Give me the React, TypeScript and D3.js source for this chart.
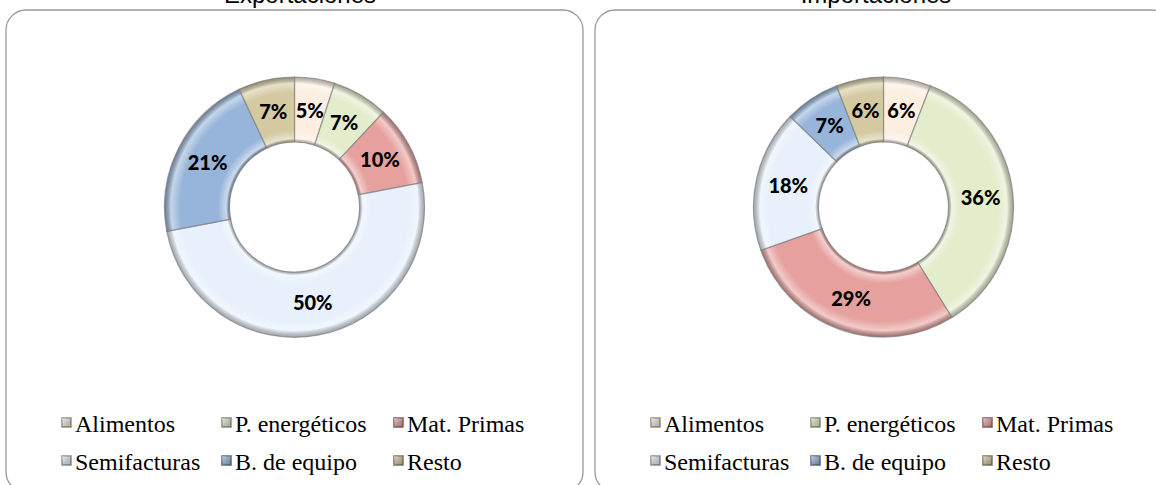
import * as d3 from "d3";

// categories and shares (percent) read from the two doughnuts
const categories = ["Alimentos", "P. energéticos", "Mat. Primas", "Semifacturas", "B. de equipo", "Resto"];
const exportValues = [5, 7, 10, 50, 21, 7];
const importValues = [6, 36, 29, 18, 7, 6];
const chartTitles = ["Exportaciones", "Importaciones"];
const colors = ["#FCEEE0", "#E3ECCB", "#E6A19E", "#E7F0FB", "#97B5DA", "#D4C9A1"];

const W = 1156;
const H = 485;

const panels = [
  { x: 6, title: chartTitles[0], titleX: 300, values: exportValues },
  { x: 595, title: chartTitles[1], titleX: 876, values: importValues },
];
const panelW = 577;
const panelTop = 10;
const panelH = 482;
const outerR = 130;
const innerR = 65;
const legendCols = [56, 216, 388];
const legendRows = [432, 470];

function Donut({ panel, idx }: { panel: typeof panels[0]; idx: number }) {
  const cx = panel.x + panelW / 2;
  const cy = 207;
  const data = categories.map((name, i) => ({ name, value: panel.values[i], color: colors[i] }));
  const pie = d3.pie<any>().value((d) => d.value).sort(null);
  const arcs = pie(data);
  const arc = d3.arc<any>().innerRadius(innerR).outerRadius(outerR);
  const labelArc = d3.arc<any>().innerRadius((innerR + outerR) / 2).outerRadius((innerR + outerR) / 2);
  const gid = `bevel${idx}`;
  const mid = `mbevel${idx}`;
  const f = innerR / outerR;

  return (
    <g>
      <defs>
        <radialGradient id={gid} gradientUnits="userSpaceOnUse" cx={0} cy={0} r={outerR}>
          <stop offset={f} stopColor="#000" stopOpacity={0.32} />
          <stop offset={f + 0.025} stopColor="#fff" stopOpacity={0.5} />
          <stop offset={f + 0.09} stopColor="#fff" stopOpacity={0} />
          <stop offset={0.88} stopColor="#fff" stopOpacity={0} />
          <stop offset={0.95} stopColor="#fff" stopOpacity={0.45} />
          <stop offset={1} stopColor="#000" stopOpacity={0.3} />
        </radialGradient>
        <linearGradient id={mid} x1="0" y1="0" x2="1" y2="1">
          <stop offset={0} stopColor="#fff" stopOpacity={0.5} />
          <stop offset={1} stopColor="#000" stopOpacity={0.25} />
        </linearGradient>
      </defs>
      <rect x={panel.x} y={panelTop} width={panelW} height={panelH} rx={20} ry={20}
        fill="#fff" stroke="#9a9a9a" strokeWidth={1.3} />
      <text x={panel.titleX} y={3} textAnchor="middle" fontFamily="Liberation Sans, Arial, sans-serif"
        fontSize={24} fill="#000">{panel.title}</text>
      <g transform={`translate(${cx},${cy})`}>
        {arcs.map((a, i) => (
          <g key={i}>
            <path d={arc(a) as string} fill={a.data.color} />
            <path d={arc(a) as string} fill={`url(#${gid})`} stroke="#7d7d7d" strokeOpacity={0.7} strokeWidth={1.2} />
          </g>
        ))}
        {arcs.map((a, i) => {
          const [lx, ly] = labelArc.centroid(a);
          return (
            <text key={"t" + i} x={lx} y={ly} dy="0.36em" textAnchor="middle" fontFamily="Lato, sans-serif"
              fontWeight="900" fontSize={20} fill="#000">{`${a.data.value}%`}</text>
          );
        })}
      </g>
      {data.map((d, i) => {
        const lx = panel.x + legendCols[i % 3];
        const ly = legendRows[Math.floor(i / 3)];
        return (
          <g key={"l" + i}>
            <rect x={lx} y={ly - 14} width={9} height={9} fill={d.color}
              stroke={d3.color(d.color)!.darker(1.3).formatHex()} strokeWidth={1.6} />
            <rect x={lx} y={ly - 14} width={9} height={9} fill={`url(#${mid})`} />
            <text x={lx + 13} y={ly} fontFamily="Liberation Serif" fontSize={24}
              fill="#000">{d.name}</text>
          </g>
        );
      })}
    </g>
  );
}

export default function App() {
  return (
    <svg width={W} height={H} style={{ position: "absolute", left: 0, top: 0, background: "#fff" }}>
      {panels.map((p, i) => (
        <Donut key={i} panel={p} idx={i} />
      ))}
    </svg>
  );
}
